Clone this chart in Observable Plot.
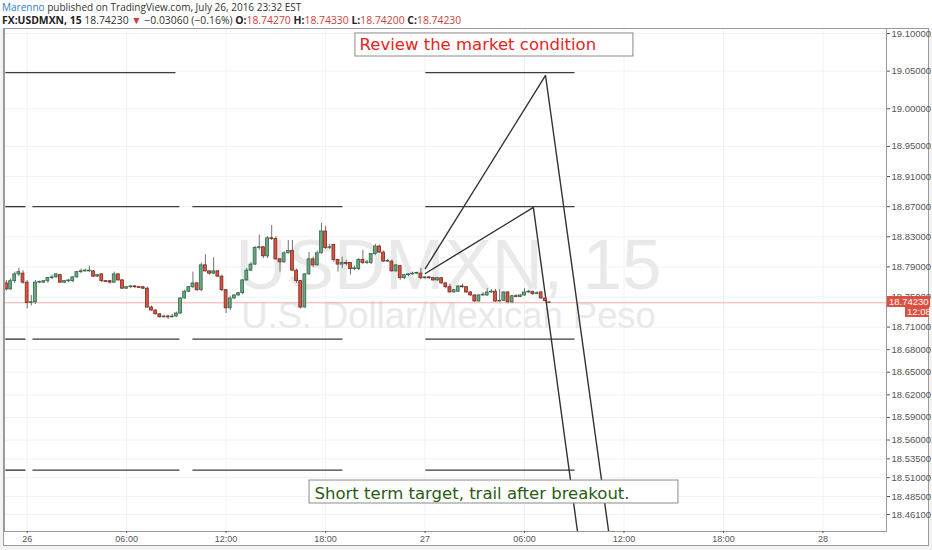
<!DOCTYPE html>
<html><head><meta charset="utf-8">
<script src="https://cdn.jsdelivr.net/npm/d3@7"></script>
<script src="https://cdn.jsdelivr.net/npm/@observablehq/plot@0.6"></script>
<style>
html,body{margin:0;padding:0;background:#f3f3f3;}
#wrap{position:relative;width:932px;height:550px;overflow:hidden;background:#f3f3f3;}
#hdr{position:absolute;left:0;top:0;width:932px;height:28px;background:#fff;font-family:"Open Sans",sans-serif;font-size:10px;color:#333;}
#hdr .l1{position:absolute;left:2px;top:1px;white-space:nowrap;line-height:12px;height:12px;}
#hdr .l2{position:absolute;left:2px;top:14px;white-space:nowrap;line-height:12px;height:12px;font-size:10.4px;letter-spacing:0px;}
#hdr .blue{color:#2f7dc4;}
#hdr .red{color:#d0403a;}
#hdr b{font-weight:700;color:#222;}
#frame{position:absolute;left:3px;top:28px;width:926px;height:518px;box-sizing:border-box;border:1px solid #9a9a9a;background:#fff;}
#chart{position:absolute;left:0;top:28px;}
.pl{position:absolute;background:#df4f3e;color:#fff;font-family:'Liberation Sans',Arial,sans-serif;font-size:9.5px;line-height:11px;height:11px;padding:0 2px;box-sizing:border-box;white-space:nowrap;}
</style></head>
<body><div id="wrap">
<div id="hdr">
<div class="l1"><span class="blue">Marenno</span> published on TradingView.com, July 26, 2016 23:32 EST</div>
<div class="l2"><b>FX:USDMXN, 15</b> 18.74230 <span class="red">▼</span> −0.03060 (−0.16%) <b>O:</b><span class="red">18.74270</span> <b>H:</b><span class="red">18.74330</span> <b>L:</b><span class="red">18.74200</span> <b>C:</b><span class="red">18.74230</span></div>
</div>
<div id="frame"></div>
<div id="chart"></div>
</div>
<script>
// ---- candle data (15-minute bars, first bar 2016-07-25 22:45 UTC) ----
const open = [18.768,18.760,18.771,18.780,18.781,18.769,18.742,18.743,18.769,18.769,18.771,18.775,18.776,18.779,18.769,18.771,18.771,18.776,18.783,18.784,18.784,18.784,18.777,18.780,18.771,18.771,18.769,18.780,18.772,18.761,18.763,18.764,18.763,18.763,18.761,18.736,18.732,18.727,18.723,18.724,18.723,18.724,18.728,18.748,18.757,18.763,18.768,18.759,18.792,18.784,18.781,18.784,18.777,18.759,18.735,18.748,18.752,18.755,18.772,18.785,18.793,18.815,18.816,18.804,18.828,18.827,18.800,18.796,18.808,18.811,18.785,18.771,18.736,18.780,18.800,18.792,18.808,18.837,18.815,18.819,18.799,18.793,18.795,18.795,18.787,18.787,18.799,18.795,18.795,18.807,18.817,18.809,18.797,18.797,18.784,18.791,18.775,18.779,18.780,18.781,18.781,18.775,18.776,18.775,18.772,18.775,18.768,18.763,18.756,18.757,18.764,18.763,18.756,18.752,18.744,18.752,18.752,18.756,18.757,18.744,18.745,18.756,18.743,18.751,18.750,18.752,18.756,18.757,18.754,18.756,18.748,18.7427];
const high = [18.772,18.774,18.783,18.788,18.785,18.772,18.752,18.772,18.771,18.772,18.776,18.779,18.781,18.780,18.772,18.773,18.777,18.784,18.787,18.787,18.791,18.785,18.780,18.781,18.772,18.772,18.783,18.781,18.773,18.764,18.765,18.765,18.764,18.764,18.763,18.738,18.733,18.728,18.726,18.726,18.727,18.730,18.749,18.759,18.764,18.783,18.769,18.795,18.806,18.785,18.802,18.785,18.779,18.760,18.751,18.753,18.756,18.773,18.788,18.796,18.817,18.832,18.817,18.830,18.845,18.830,18.801,18.810,18.825,18.825,18.787,18.772,18.781,18.809,18.803,18.811,18.848,18.844,18.820,18.820,18.800,18.803,18.799,18.796,18.791,18.801,18.812,18.799,18.808,18.820,18.819,18.811,18.800,18.799,18.793,18.792,18.780,18.781,18.783,18.783,18.788,18.777,18.777,18.776,18.776,18.776,18.769,18.767,18.760,18.765,18.767,18.764,18.757,18.753,18.753,18.756,18.761,18.760,18.760,18.760,18.757,18.757,18.752,18.753,18.753,18.761,18.759,18.757,18.757,18.757,18.749,18.7433];
const low = [18.758,18.759,18.768,18.777,18.767,18.734,18.738,18.740,18.768,18.768,18.768,18.773,18.775,18.768,18.768,18.769,18.769,18.775,18.781,18.783,18.783,18.776,18.776,18.769,18.769,18.767,18.768,18.771,18.760,18.760,18.761,18.761,18.761,18.760,18.735,18.731,18.726,18.722,18.722,18.720,18.722,18.723,18.727,18.747,18.756,18.761,18.757,18.757,18.783,18.779,18.780,18.776,18.757,18.728,18.732,18.747,18.751,18.753,18.771,18.784,18.792,18.812,18.801,18.801,18.825,18.799,18.783,18.795,18.807,18.784,18.768,18.734,18.735,18.779,18.789,18.791,18.807,18.813,18.813,18.796,18.783,18.788,18.791,18.779,18.785,18.785,18.793,18.793,18.793,18.805,18.808,18.796,18.796,18.783,18.783,18.772,18.773,18.777,18.779,18.780,18.773,18.773,18.773,18.771,18.771,18.767,18.761,18.755,18.755,18.756,18.761,18.755,18.751,18.743,18.743,18.751,18.751,18.755,18.743,18.743,18.744,18.741,18.741,18.749,18.749,18.751,18.755,18.752,18.753,18.747,18.743,18.7420];
const close = [18.760,18.771,18.780,18.783,18.769,18.742,18.743,18.769,18.770,18.771,18.775,18.776,18.780,18.769,18.771,18.772,18.776,18.783,18.784,18.785,18.785,18.777,18.779,18.771,18.770,18.769,18.780,18.772,18.761,18.763,18.764,18.763,18.762,18.761,18.736,18.732,18.727,18.723,18.724,18.723,18.724,18.728,18.748,18.757,18.763,18.768,18.759,18.792,18.784,18.781,18.784,18.777,18.759,18.735,18.748,18.752,18.755,18.772,18.785,18.793,18.815,18.816,18.804,18.828,18.827,18.800,18.796,18.808,18.811,18.785,18.771,18.736,18.780,18.800,18.792,18.808,18.837,18.815,18.816,18.799,18.793,18.795,18.794,18.787,18.788,18.799,18.795,18.796,18.807,18.817,18.809,18.797,18.798,18.784,18.792,18.775,18.779,18.780,18.781,18.782,18.775,18.776,18.775,18.772,18.775,18.768,18.763,18.756,18.759,18.764,18.763,18.756,18.752,18.744,18.752,18.753,18.756,18.757,18.744,18.745,18.756,18.743,18.751,18.750,18.752,18.756,18.757,18.754,18.755,18.748,18.7445,18.7423];
const firstBar = "2016-07-25T22:45Z";
const barMinutes = 15;
const lastPrice = 18.7423;
const lastPriceLabel = "18.74230";
const countdownLabel = "12:08";

// ---- axes ----
const yTicks = [19.10,19.05,19.00,18.95,18.91,18.87,18.83,18.79,18.75,18.71,18.68,18.65,18.62,18.59,18.56,18.535,18.51,18.485,18.461];
const xTickDates = ["2016-07-26T00:00Z","2016-07-26T06:00Z","2016-07-26T12:00Z","2016-07-26T18:00Z","2016-07-27T00:00Z","2016-07-27T06:00Z","2016-07-27T12:00Z","2016-07-27T18:00Z","2016-07-28T00:00Z"];
const xDomain = ["2016-07-25T22:38Z","2016-07-28T03:50Z"];
const yDomain = [18.4385, 19.1066];

// ---- drawings: horizontal levels ----
const levelPrice = [19.048,19.048,18.870,18.870,18.870,18.870,18.694,18.694,18.694,18.694,18.520,18.520,18.520,18.520];
const levelFrom  = ["2016-07-25T22:41Z","2016-07-27T00:01Z",
  "2016-07-25T22:41Z","2016-07-26T00:19Z","2016-07-26T09:58Z","2016-07-27T00:01Z",
  "2016-07-25T22:41Z","2016-07-26T00:19Z","2016-07-26T09:58Z","2016-07-27T00:01Z",
  "2016-07-25T22:41Z","2016-07-26T00:19Z","2016-07-26T09:58Z","2016-07-27T00:01Z"];
const levelTo    = ["2016-07-26T08:57Z","2016-07-27T09:01Z",
  "2016-07-25T23:54Z","2016-07-26T09:11Z","2016-07-26T19:01Z","2016-07-27T09:01Z",
  "2016-07-25T23:54Z","2016-07-26T09:11Z","2016-07-26T19:01Z","2016-07-27T09:01Z",
  "2016-07-25T23:54Z","2016-07-26T09:11Z","2016-07-26T19:01Z","2016-07-27T09:01Z"];

// ---- drawings: projection lines ----
const pathATime = ["2016-07-27T00:01Z","2016-07-27T07:16Z","2016-07-27T11:19Z"];
const pathAPrice = [18.7878, 19.0442, 18.40];
const pathBTime = ["2016-07-27T00:01Z","2016-07-27T06:32Z","2016-07-27T09:26Z"];
const pathBPrice = [18.7812, 18.8689, 18.40];

// ---- annotations ----
const noteText = ["Review the market condition", "Short term target, trail after breakout."];
const noteColor = ["#e8231c", "#2b5a14"];
const noteX = ["2016-07-26T20:03Z", "2016-07-26T17:20Z"];
const noteY = [19.0774, 18.4823];
const boxX1 = ["2016-07-26T19:48Z", "2016-07-26T17:02Z"];
const boxX2 = ["2016-07-27T12:34Z", "2016-07-27T15:17Z"];
const boxY1 = [19.0694, 18.4757];
const boxY2 = [19.1000, 18.5062];

// ---- build tables ----
const t0 = new Date(firstBar).getTime();
const candles = open.map((o, i) => ({
  t: new Date(t0 + i * barMinutes * 60000),
  o, h: high[i], l: low[i], c: close[i], up: close[i] >= o
}));
const half = 5.2 * 60000;
const levels = levelPrice.map((p, i) => ({p, a: new Date(levelFrom[i]), b: new Date(levelTo[i])}));
const pathA = pathATime.map((t, i) => ({t: new Date(t), p: pathAPrice[i]}));
const pathB = pathBTime.map((t, i) => ({t: new Date(t), p: pathBPrice[i]}));
const notes = noteText.map((s, i) => ({s, color: noteColor[i], x: new Date(noteX[i]), y: noteY[i],
  x1: new Date(boxX1[i]), x2: new Date(boxX2[i]), y1: boxY1[i], y2: boxY2[i]}));
const xTicks = xTickDates.map(s => new Date(s));
const fmtHM = d3.utcFormat("%H:%M");
const xFmt = d => d.getUTCHours() === 0 ? String(d.getUTCDate()) : fmtHM(d);

const plot = Plot.plot({
  width: 932, height: 522,
  marginTop: 0, marginBottom: 19, marginLeft: 4, marginRight: 46,
  style: {background: "transparent", fontFamily: "'Liberation Sans', Arial, sans-serif"},
  x: {type: "utc", domain: xDomain.map(s => new Date(s)), axis: null},
  y: {domain: yDomain, axis: null},
  marks: [
    Plot.gridY(yTicks, {stroke: "#f2f2f2", strokeOpacity: 1}),
    Plot.gridX(xTicks, {stroke: "#f2f2f2", strokeOpacity: 1}),
    Plot.text(["USDMXN, 15"], {frameAnchor: "top", dx: 3, dy: 260, lineAnchor: "bottom", fontSize: 71, fill: "#e9e9e9", fontFamily: "'Liberation Sans', Arial, sans-serif"}),
    Plot.text(["U.S. Dollar/Mexican Peso"], {frameAnchor: "top", dx: 3, dy: 299, lineAnchor: "bottom", fontSize: 36.4, fill: "#e9e9e9", fontFamily: "'Liberation Sans', Arial, sans-serif"}),
    Plot.ruleY([lastPrice], {stroke: "#f4aaa3", strokeWidth: 1}),
    Plot.link(levels, {x1: "a", x2: "b", y1: "p", y2: "p", stroke: "#3c3c3c", strokeWidth: 1.4}),
    Plot.line(pathA, {x: "t", y: "p", stroke: "#333", strokeWidth: 1.4, clip: true}),
    Plot.line(pathB, {x: "t", y: "p", stroke: "#333", strokeWidth: 1.4, clip: true}),
    Plot.ruleX(candles, {x: "t", y1: "l", y2: "h", stroke: "#707070", strokeWidth: 1}),
    Plot.rect(candles, {x1: d => new Date(d.t.getTime() - half), x2: d => new Date(d.t.getTime() + half),
      y1: "o", y2: "c", fill: d => d.up ? "#6ba583" : "#d75442", stroke: d => d.up ? "#2e6a48" : "#7a2a20", strokeWidth: 0.8}),
    Plot.rect(notes, {x1: "x1", x2: "x2", y1: "y1", y2: "y2", fill: "#fff", stroke: "#8a8a8a", strokeWidth: 1}),
    Plot.text(notes, {x: "x", y: "y", text: "s", fill: "color", textAnchor: "start", lineAnchor: "bottom", fontSize: 16.5, fontFamily: "'DejaVu Sans', Verdana, sans-serif"}),
    Plot.frame({stroke: "#9a9a9a"}),
    Plot.axisY(yTicks, {anchor: "right", tickFormat: d => d.toFixed(5), tickSize: 3, tickPadding: 2, fontSize: 9.5, color: "#555", label: null}),
    Plot.axisX(xTicks, {anchor: "bottom", tickFormat: xFmt, tickSize: 2, tickPadding: 2, fontSize: 9, color: "#555", label: null})
  ]
});
document.getElementById("chart").appendChild(plot);

// last-price labels on the price scale (positioned from the plot's own y scale)
const yPix = 28 + plot.scale("y").apply(lastPrice);
const wrap = document.getElementById("wrap");
const lab1 = document.createElement("div");
lab1.className = "pl"; lab1.textContent = lastPriceLabel;
lab1.style.left = "887px"; lab1.style.top = (yPix - 6) + "px"; lab1.style.width = "43px";
wrap.appendChild(lab1);
const lab2 = document.createElement("div");
lab2.className = "pl"; lab2.textContent = countdownLabel;
lab2.style.left = "905px"; lab2.style.top = (yPix + 5) + "px"; lab2.style.width = "24px"; lab2.style.height = "10px"; lab2.style.lineHeight = "10px";
wrap.appendChild(lab2);
</script>
</body></html>
